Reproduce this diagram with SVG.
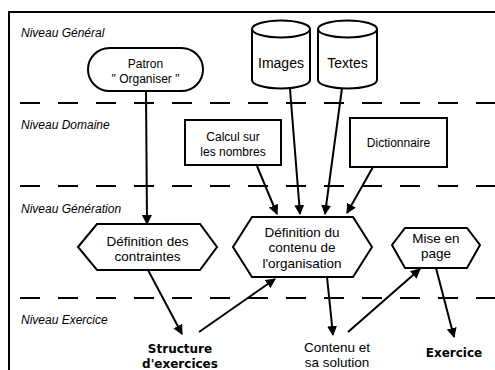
<svg xmlns="http://www.w3.org/2000/svg" width="495" height="370" viewBox="0 0 495 370">
<defs>
<marker id="ah" markerWidth="10" markerHeight="10" refX="9" refY="5" orient="auto" markerUnits="userSpaceOnUse" viewBox="0 0 10 10">
<path d="M0,0 L10,5 L0,10 z" fill="#000"/>
</marker>
</defs>
<style>
.lvl{font-family:"Liberation Sans",Arial,sans-serif;font-size:12px;font-style:italic;fill:#000}
.t{font-family:"Liberation Sans",Arial,sans-serif;fill:#000;text-anchor:middle}
.b{font-family:"DejaVu Sans",Verdana,sans-serif;font-weight:bold;font-size:12px;fill:#000;text-anchor:middle}
.shape{fill:#fff;stroke:#000;stroke-width:2}
.dash{stroke:#000;stroke-width:2;stroke-dasharray:20 18;fill:none}
.conn{stroke:#000;stroke-width:2;fill:none;marker-end:url(#ah)}
.plain{stroke:#000;stroke-width:2;fill:none}
</style>
<rect width="495" height="370" fill="#fff"/>
<!-- frame -->
<path d="M9,370 V12 H495" fill="none" stroke="#000" stroke-width="2"/>
<!-- level separators -->
<g id="levels">
<line class="dash" x1="20" y1="103" x2="495" y2="103"/>
<line class="dash" x1="20" y1="186" x2="495" y2="186"/>
<line class="dash" x1="20" y1="298" x2="495" y2="298"/>
<text class="lvl" x="21" y="37">Niveau Général</text>
<text class="lvl" x="21" y="129">Niveau Domaine</text>
<text class="lvl" x="21" y="213">Niveau Génération</text>
<text class="lvl" x="21" y="324">Niveau Exercice</text>
</g>
<!-- connectors -->
<g id="connectors">
<line class="conn" x1="146" y1="91" x2="147" y2="224"/>
<line class="conn" x1="257" y1="166" x2="277" y2="214"/>
<line class="conn" x1="290" y1="89" x2="300" y2="214"/>
<line class="conn" x1="342" y1="88" x2="325" y2="214"/>
<line class="conn" x1="373" y1="167" x2="347" y2="213"/>
<line class="conn" x1="148" y1="270" x2="182" y2="334"/>
<line class="conn" x1="199" y1="332" x2="275" y2="279"/>
<line class="conn" x1="327" y1="277" x2="333" y2="335"/>
<line class="conn" x1="348" y1="332" x2="420" y2="269"/>
<line class="conn" x1="436" y1="268" x2="454" y2="337"/>
</g>
<g id="patron">
<rect class="shape" x="88" y="48" width="115" height="43" rx="21.5" ry="21.5"/>
<text class="t" x="145.5" y="68" font-size="12">Patron</text>
<text class="t" x="145.5" y="83" font-size="12">" Organiser "</text>
</g>
<g id="images">
<path class="shape" d="M252,29 V80 A29,8.5 0 0 0 310,80 V29 A29,8.5 0 0 0 252,29 Z"/>
<path class="plain" d="M252,29 A29,8.5 0 0 0 310,29"/>
<text class="t" x="281" y="68" font-size="14">Images</text>
</g>
<g id="textes">
<path class="shape" d="M318,29 V80 A29.5,8.5 0 0 0 377,80 V29 A29.5,8.5 0 0 0 318,29 Z"/>
<path class="plain" d="M318,29 A29.5,8.5 0 0 0 377,29"/>
<text class="t" x="347.5" y="68" font-size="14">Textes</text>
</g>
<g id="calcul">
<rect class="shape" x="185" y="120" width="96" height="45"/>
<text class="t" x="233" y="141" font-size="12">Calcul sur</text>
<text class="t" x="233" y="156" font-size="12">les nombres</text>
</g>
<g id="dictionnaire">
<rect class="shape" x="350" y="118" width="97" height="49"/>
<text class="t" x="398.5" y="147" font-size="12">Dictionnaire</text>
</g>
<g id="contraintes">
<polygon class="shape" points="78,247 97,224 200,224 217,247 200,270 97,270"/>
<text class="t" x="147.5" y="246" font-size="13.5">Définition des</text>
<text class="t" x="147.5" y="261" font-size="13.5">contraintes</text>
</g>
<g id="contenu-organisation">
<polygon class="shape" points="233,247 252,217 353,217 372,247 353,277 252,277"/>
<text class="t" x="302" y="237" font-size="13.5">Définition du</text>
<text class="t" x="302" y="252" font-size="13.5">contenu de</text>
<text class="t" x="302" y="268" font-size="13.5">l'organisation</text>
</g>
<g id="mise-en-page">
<polygon class="shape" points="392,245 405,228 467,228 480,245 467,268 405,268"/>
<text class="t" x="436" y="243" font-size="13.5">Mise en</text>
<text class="t" x="436" y="258" font-size="13.5">page</text>
</g>
<g id="structure">
<text class="b" x="180" y="353">Structure</text>
<text class="b" x="180" y="368">d'exercices</text>
</g>
<g id="contenu-solution">
<text class="t" x="337" y="352" font-size="13.5">Contenu et</text>
<text class="t" x="337" y="367" font-size="13.5">sa solution</text>
</g>
<g id="exercice">
<text class="b" x="454" y="357">Exercice</text>
</g>
</svg>
